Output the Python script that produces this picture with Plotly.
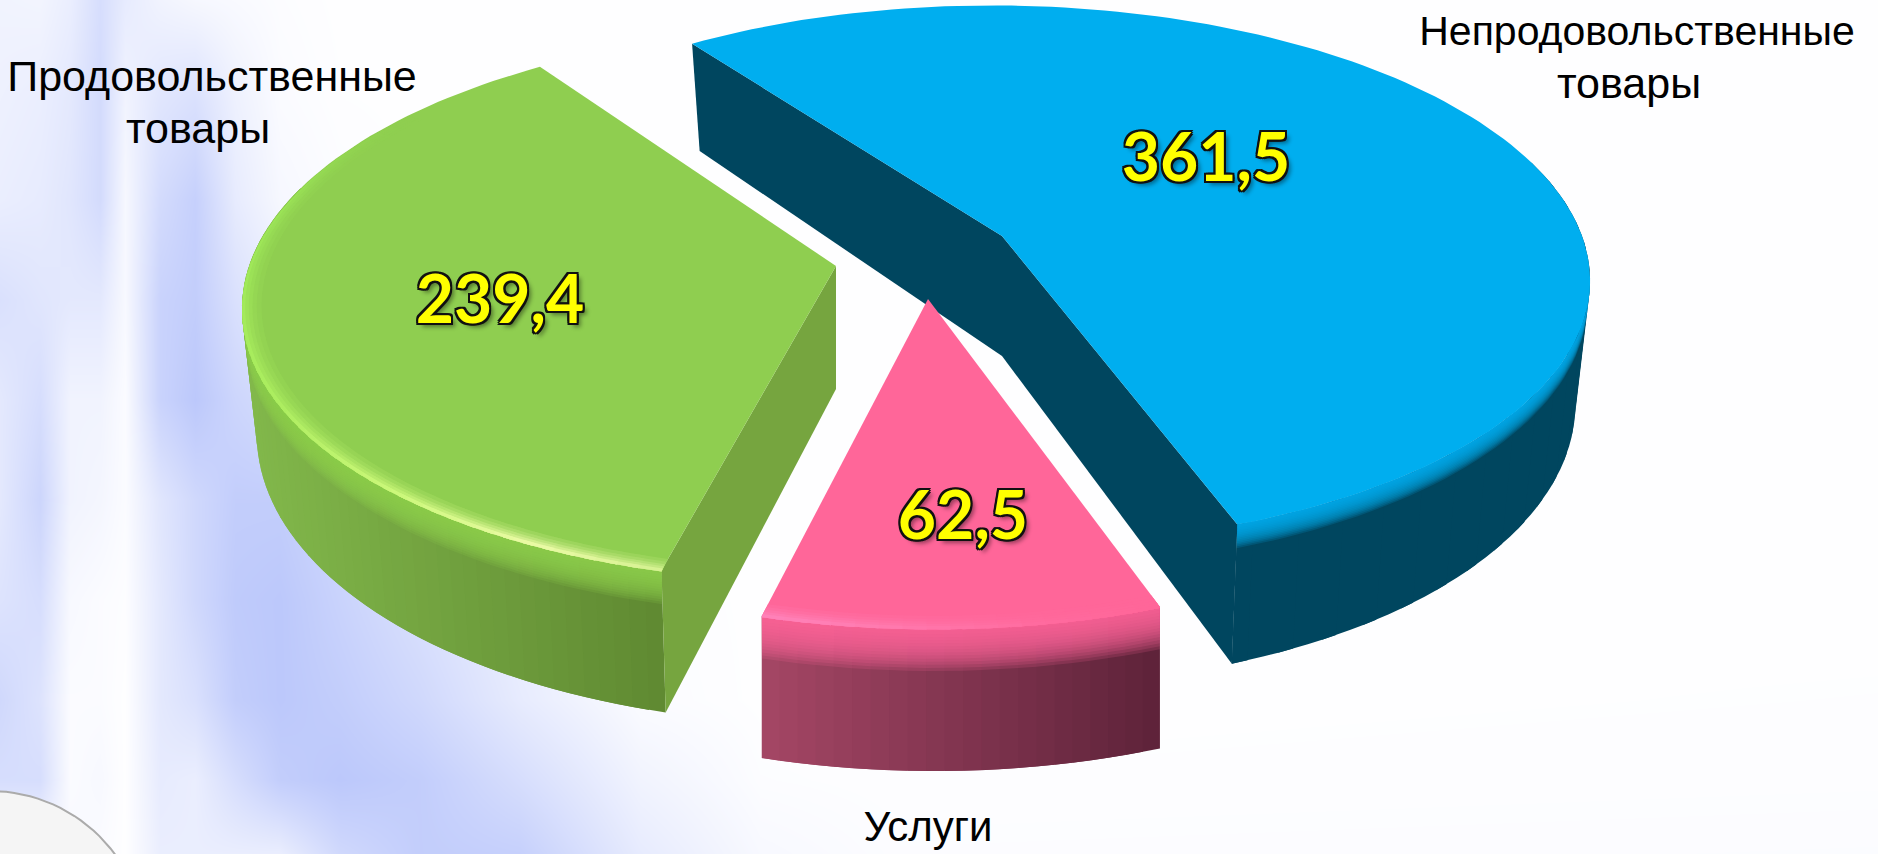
import math
import plotly.graph_objects as go

# ---- data ----
categories = ["Непродовольственные товары", "Услуги", "Продовольственные товары"]
values = [361.5, 62.5, 239.4]
value_labels = ["361,5", "62,5", "239,4"]
label_lines = ["Непродовольственные", "товары", "Услуги", "Продовольственные", "товары"]
label_x = [1637, 1629, 928, 212, 198]
label_y = [35, 87, 830, 80, 132]
label_size = [41, 43, 42, 43, 43]
start_angle = -35.5
tips = [(1002, 236), (928, 299), (836, 266)]
top_colors = ["#00AEEF", "#FF6699", "#8FCE50"]
wall_left = ["#00465F", "#A64766", "#82B84B"]
wall_right = ["#00465F", "#5E233A", "#608A32"]
wall_x = [(1200, 1580), (763, 1163), (243, 662)]
cut_color = ["#00465F", None, "#76A53F"]
band_depth = [0.17, 0.30, 0.24]
value_x = [1206, 963, 500]
value_y = [164, 522, 306]
# projection per slice
scale_x = [580, 592, 587]
scale_y = [264, 283, 271]
persp = [0.145, 0.14, 0.14]
shear = [0.045, 0.02, -0.03]
depth = [120, 123, 123]
taper = [0.025, 0.0, 0.025]
spread = [0, 0, 0.5]

# bevel highlight: slice index, angles, colours, strength
glow = {
    2: ([193, 205, 220, 240, 265, 285, 305],
        [(240, 255, 170), (245, 255, 175), (215, 255, 130), (180, 245, 100), (165, 240, 92), (160, 236, 90), (150, 225, 80)],
        [0.75, 0.95, 0.9, 0.85, 0.85, 0.7, 0.0]),
    1: ([160, 170, 180, 187, 194],
        [(255, 135, 190)] * 5,
        [0.0, 0.15, 0.5, 0.75, 0.9]),
}
glow_levels = [0.968, 0.976, 0.983, 0.989, 0.995]
glow_mix = [0.15, 0.3, 0.5, 0.7, 0.95]

# background tint table
bg_x = [0, 40, 70, 100, 125, 160, 195, 235, 280, 340, 420, 520, 640, 760, 900, 1878]
bg_y = [0, 100, 200, 300, 400, 500, 600, 700, 780, 854]
bg_z = [
    [.20, .18, .30, .60, .35, .20, .12, .08, .03, 0, 0, 0, 0, 0, 0, 0],
    [.25, .30, .40, .65, .20, .45, .55, .25, .06, .01, 0, 0, 0, 0, 0, 0],
    [.30, .35, .45, .65, .12, .65, .85, .35, .12, .04, 0, 0, 0, 0, 0, 0],
    [.55, .45, .40, .40, .10, .80, .90, .55, .30, .10, 0, 0, 0, 0, 0, 0],
    [.40, .60, .20, .20, .05, .80, 1.0, .75, .60, .25, .10, 0, 0, 0, 0, 0],
    [.40, .75, .20, .15, .05, .45, .70, .90, .90, .70, .30, .05, 0, 0, 0, 0],
    [.50, .60, .10, .05, .02, .40, .70, .95, 1.0, .80, .55, .25, .03, 0, 0, 0],
    [.70, .50, .05, .05, 0, .40, .55, .90, 1.0, .90, .70, .35, .05, 0, 0, .01],
    [.60, .60, .05, .10, 0, .35, .30, .60, .90, 1.0, .90, .60, .20, .03, .01, .02],
    [.10, .10, .10, .05, 0, .30, .30, .30, .30, .70, .90, .85, .35, .10, .03, .04],
]


def project(i, theta, r=1.0, z=0.0):
    t = math.radians(theta)
    X, Y = r * math.sin(t), r * math.cos(t)
    w = 1 / (1 + persp[i] * Y)
    dy = scale_y[i] * Y * w
    return (tips[i][0] + scale_x[i] * X * w * (1 - taper[i] * z) - shear[i] * dy,
            tips[i][1] - dy + depth[i] * z * w)


def hex_rgb(c):
    return tuple(int(c[k:k + 2], 16) for k in (1, 3, 5))


def mix(c1, c2, f):
    f = max(0, min(1, f))
    return tuple(c1[k] + (c2[k] - c1[k]) * f for k in range(3))


def css(c, a=1.0):
    return f"rgba({c[0]:.0f},{c[1]:.0f},{c[2]:.0f},{a:.3f})"


def poly(fig, pts, color):
    xs = [p[0] for p in pts] + [pts[0][0]]
    ys = [p[1] for p in pts] + [pts[0][1]]
    fig.add_trace(go.Scatter(x=xs, y=ys, mode="lines", fill="toself", fillcolor=color,
                             line=dict(width=0, color=color), hoverinfo="skip", showlegend=False))


def seq(a, b, step=1.5):
    n = max(2, int(abs(b - a) / step) + 1)
    return [a + (b - a) * k / (n - 1) for k in range(n)]


fig = go.Figure()
fig.add_trace(go.Heatmap(x=bg_x, y=bg_y, z=bg_z, zmin=0, zmax=1, zsmooth="best", showscale=False,
                         hoverinfo="skip", colorscale=[[0, "#FEFEFF"], [1, "#BCC8FB"]]))

total = sum(values)
edges = [start_angle]
for v in values:
    edges.append(edges[-1] + v / total * 360)

for i in [0, 2, 1]:
    a0, a1 = edges[i] - spread[i], edges[i + 1] + spread[i]
    front = [t for t in seq(a0, a1) if math.cos(math.radians(t)) < 0.3]
    flat = wall_left[i] == wall_right[i]
    # outer wall: overlapping quads, so it neither folds nor shows seams
    stride = 3 if flat else 1
    for j in range(0, len(front) - 1, stride):
        part = front[j:j + stride + 2]
        upper = [project(i, t, 1, 0) for t in part]
        lower = [project(i, t, 1, 1) for t in part]
        f = (upper[0][0] - wall_x[i][0]) / (wall_x[i][1] - wall_x[i][0])
        poly(fig, upper + lower[::-1], css(mix(hex_rgb(wall_left[i]), hex_rgb(wall_right[i]), f)))
    # flat cut faces
    if i == 0:
        poly(fig, [project(i, a0), project(i, a0, 0), project(i, a0, 0, 1), project(i, a0, 1, 1)], cut_color[i])
    if cut_color[i]:
        e = a1 if i == 0 else a0
        poly(fig, [project(i, e, 0), project(i, e), project(i, e, 1, 1), project(i, e, 0, 1)], cut_color[i])
    # shoulder: stacked layers fade the top colour into the wall, only on the visible run of the rim
    xs = [project(i, t)[0] for t in front]
    if i == 0:
        lit = front[xs.index(max(xs)):]
    elif i == 2:
        lit = front[:xs.index(min(xs)) + 1]
    else:
        lit = front
    layers = 14
    for b in range(layers, 0, -1):
        zb = band_depth[i] * b / layers
        pts = [project(i, t, 1, 0) for t in lit] + [project(i, t, 1, zb) for t in lit[::-1]]
        poly(fig, pts, css(hex_rgb(top_colors[i]), 0.17))
    # top face
    arc = [project(i, t) for t in seq(a0, a1)]
    poly(fig, [project(i, a0, 0)] + arc, top_colors[i])
    # bright bevel line: opaque blended segments, overlapping
    if i in glow:
        angs, cols, strength = glow[i]
        base = hex_rgb(top_colors[i])
        lo, hi = min(a0, a1), max(a0, a1)
        for r1, k in zip(glow_levels, glow_mix):
            t = lo
            while t < min(hi, angs[-1]):
                j = max([n for n in range(len(angs) - 1) if angs[n] <= t] or [0])
                f = (t - angs[j]) / (angs[j + 1] - angs[j])
                c = mix(cols[j], cols[j + 1], f)
                s = strength[j] + (strength[j + 1] - strength[j]) * f
                t1 = min(t + 3, hi)
                pts = [project(i, t, r1), project(i, t1, r1), project(i, t1, 1.0, 0.01), project(i, t, 1.0, 0.01)]
                poly(fig, pts, css(mix(base, c, s * k)))
                t += 2

# lower-left disc of the slide
cx, cy, cr = -10, 946, 155
circle = [(cx + cr * math.cos(math.radians(a)), cy + cr * math.sin(math.radians(a))) for a in range(180, 361, 3)]
fig.add_trace(go.Scatter(x=[p[0] for p in circle], y=[p[1] for p in circle], mode="lines", fill="toself",
                         fillcolor="#F5F5F5", line=dict(color="#ABABAB", width=2), hoverinfo="skip", showlegend=False))

# text
outline = ",".join(f"{dx}px {dy}px 0 #111" for dx in (-2, 0, 2) for dy in (-2, 0, 2) if dx or dy)
outline += ",4px 4px 4px rgba(0,0,0,0.4)"
fig.add_trace(go.Scatter(x=value_x, y=value_y, mode="text", text=value_labels,
                         textposition="middle center", hoverinfo="skip", showlegend=False,
                         textfont=dict(family="Lato", size=66, color="#FFFF00", weight=700, shadow=outline)))
fig.add_trace(go.Scatter(x=label_x, y=label_y, mode="text", text=label_lines,
                         textposition="middle center", hoverinfo="skip", showlegend=False,
                         textfont=dict(family="Liberation Sans", size=label_size, color="#000000")))

fig.update_layout(width=1878, height=854, margin=dict(l=0, r=0, t=0, b=0), plot_bgcolor="white",
                  paper_bgcolor="white", showlegend=False,
                  xaxis=dict(range=[0, 1878], visible=False, fixedrange=True),
                  yaxis=dict(range=[854, 0], visible=False, fixedrange=True))
fig.write_html("out.html", config={"displayModeBar": False},
               post_script="document.body.style.margin='0';document.body.style.overflow='hidden';")
